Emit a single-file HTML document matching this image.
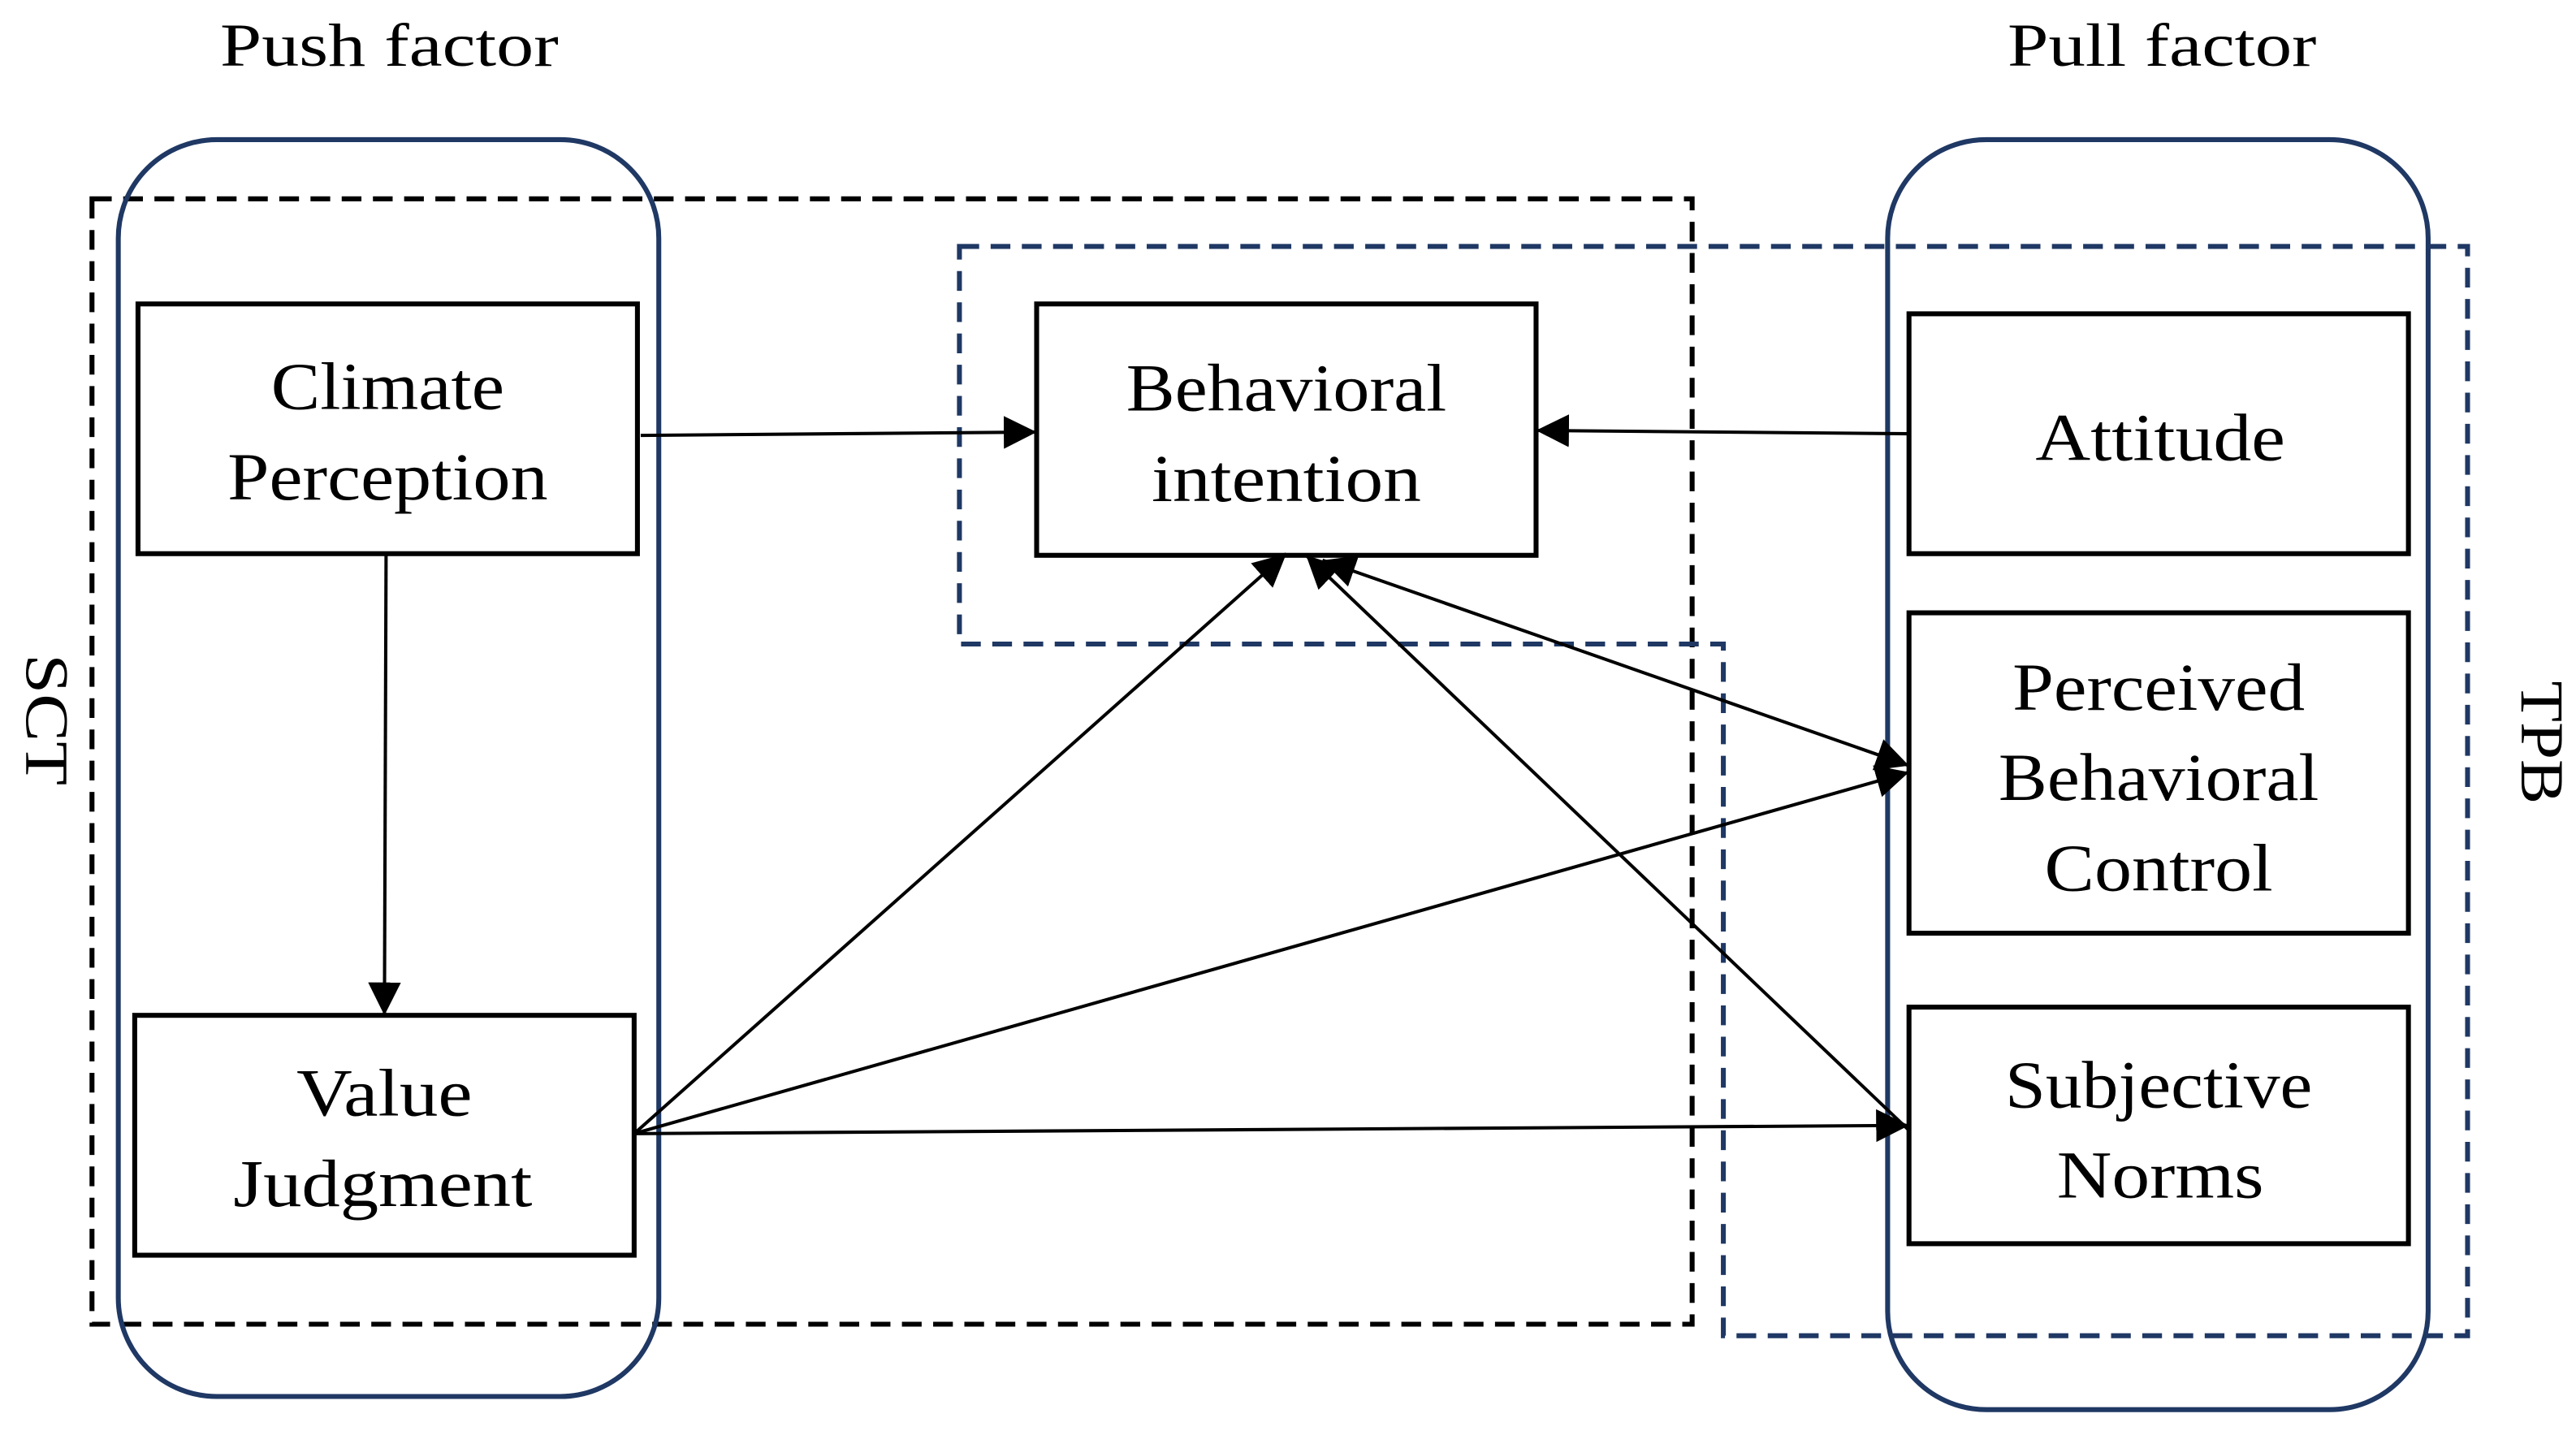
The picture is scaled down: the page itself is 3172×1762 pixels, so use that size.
<!DOCTYPE html>
<html><head><meta charset="utf-8"><style>
html,body{margin:0;padding:0;background:#fff;}
svg{display:block;}
text{font-family:"Liberation Serif",serif;fill:#000;}
</style></head><body>
<svg width="3172" height="1762" viewBox="0 0 1568 871" xmlns="http://www.w3.org/2000/svg">
<defs>
<marker id="a" viewBox="0 0 10 10" refX="10" refY="5" markerWidth="20" markerHeight="20" markerUnits="userSpaceOnUse" orient="auto-start-reverse">
<path d="M0,0 L10,5 L0,10 z" fill="#000"/></marker>
</defs>
<text x="237" y="40" font-size="37" text-anchor="middle" textLength="206" lengthAdjust="spacingAndGlyphs">Push factor</text>
<text x="1316" y="40" font-size="37" text-anchor="middle" textLength="188" lengthAdjust="spacingAndGlyphs">Pull factor</text>
<rect x="56" y="121" width="974" height="685" fill="none" stroke="#000" stroke-width="3" stroke-dasharray="12,7"/>
<path d="M584,150 L1502,150 L1502,813 L1049,813 L1049,392 L584,392 Z" fill="none" stroke="#1f3864" stroke-width="3" stroke-dasharray="12,7"/>
<rect x="72" y="85" width="329" height="765" rx="60" fill="none" stroke="#1f3864" stroke-width="3"/>
<rect x="1149" y="85" width="329" height="773" rx="60" fill="none" stroke="#1f3864" stroke-width="3"/>
<g fill="#fff" stroke="#000" stroke-width="3">
<rect x="84" y="185" width="304" height="152"/>
<rect x="631" y="185" width="304" height="153"/>
<rect x="1162" y="191" width="304" height="146"/>
<rect x="1162" y="373" width="304" height="195"/>
<rect x="1162" y="613" width="304" height="144"/>
<rect x="82" y="618" width="304" height="146"/>
</g>
<g font-size="41" text-anchor="middle" lengthAdjust="spacingAndGlyphs">
<text x="236" y="249" textLength="142" lengthAdjust="spacingAndGlyphs">Climate</text><text x="236" y="304" textLength="195" lengthAdjust="spacingAndGlyphs">Perception</text>
<text x="783" y="250" textLength="195" lengthAdjust="spacingAndGlyphs">Behavioral</text><text x="783" y="305" textLength="164" lengthAdjust="spacingAndGlyphs">intention</text>
<text x="1315" y="280" textLength="152" lengthAdjust="spacingAndGlyphs">Attitude</text>
<text x="1314" y="432" textLength="178" lengthAdjust="spacingAndGlyphs">Perceived</text><text x="1314" y="487" textLength="195" lengthAdjust="spacingAndGlyphs">Behavioral</text><text x="1314" y="542" textLength="139" lengthAdjust="spacingAndGlyphs">Control</text>
<text x="1314" y="674" textLength="187" lengthAdjust="spacingAndGlyphs">Subjective</text><text x="1315" y="729" textLength="126" lengthAdjust="spacingAndGlyphs">Norms</text>
<text x="234" y="679" textLength="107" lengthAdjust="spacingAndGlyphs">Value</text><text x="233" y="734" textLength="182" lengthAdjust="spacingAndGlyphs">Judgment</text>
</g>
<text font-size="37" text-anchor="middle" textLength="80" lengthAdjust="spacingAndGlyphs" transform="translate(16,438) rotate(90)">SCT</text>
<text font-size="37" text-anchor="middle" textLength="75" lengthAdjust="spacingAndGlyphs" transform="translate(1535,452) rotate(90)">TPB</text>
<g stroke="#000" stroke-width="2" fill="none">
<line x1="390" y1="265" x2="631" y2="263" marker-end="url(#a)"/>
<line x1="1162" y1="264" x2="935" y2="262" marker-end="url(#a)"/>
<line x1="235" y1="338" x2="234" y2="618" marker-end="url(#a)"/>
<line x1="386" y1="690" x2="783" y2="337" marker-end="url(#a)"/>
<line x1="386" y1="690" x2="1162" y2="470" marker-end="url(#a)"/>
<line x1="386" y1="690" x2="1162" y2="685" marker-end="url(#a)"/>
<line x1="805" y1="341" x2="1162" y2="466" marker-end="url(#a)" marker-start="url(#a)"/>
<line x1="1162" y1="688" x2="795" y2="338" marker-end="url(#a)"/>
</g>
</svg>
</body></html>
